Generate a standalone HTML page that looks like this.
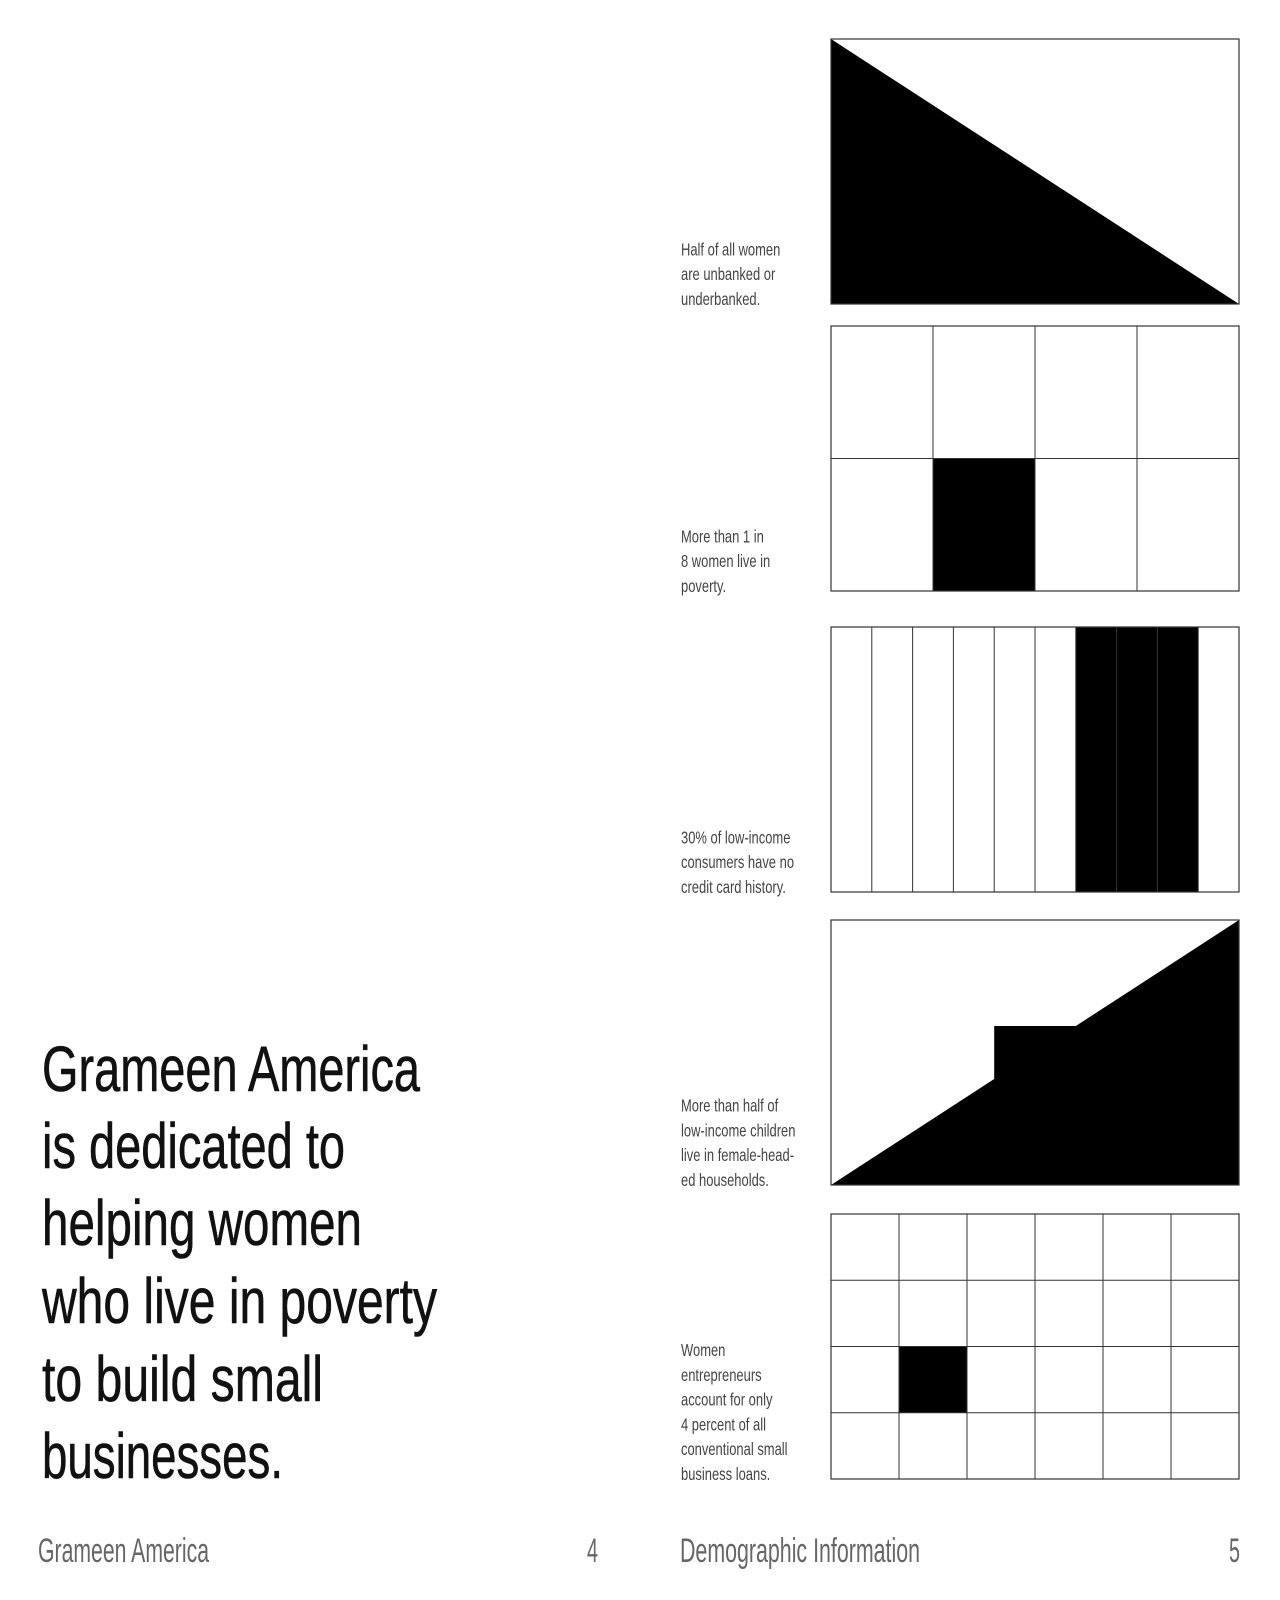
<!DOCTYPE html>
<html><head><meta charset="utf-8"><style>
html,body{margin:0;padding:0;background:#fff;}
svg{display:block;}
text{font-family:"Liberation Sans",sans-serif;}
</style></head><body>
<svg id="pg" width="1280" height="1600" viewBox="0 0 1280 1600" xmlns="http://www.w3.org/2000/svg">
<g id="heading" fill="#111" stroke="#111" stroke-width="0.6" font-size="64">
<text x="42" y="1091" textLength="378" lengthAdjust="spacingAndGlyphs">Grameen America</text>
<text x="42" y="1168" textLength="303" lengthAdjust="spacingAndGlyphs">is dedicated to</text>
<text x="42" y="1245" textLength="320" lengthAdjust="spacingAndGlyphs">helping women</text>
<text x="42" y="1323" textLength="395" lengthAdjust="spacingAndGlyphs">who live in poverty</text>
<text x="42" y="1401" textLength="281" lengthAdjust="spacingAndGlyphs">to build small</text>
<text x="42" y="1478" textLength="241" lengthAdjust="spacingAndGlyphs">businesses.</text>
</g>
<g fill="#666" font-size="34">
<text x="38" y="1562" textLength="171" lengthAdjust="spacingAndGlyphs">Grameen America</text>
<text x="587" y="1562" textLength="11" lengthAdjust="spacingAndGlyphs">4</text>
<text x="680" y="1562" textLength="240" lengthAdjust="spacingAndGlyphs">Demographic Information</text>
<text x="1229" y="1562" textLength="11" lengthAdjust="spacingAndGlyphs">5</text>
</g>
<g id="charts"></g>
</svg>
<script>
// chart frame tops (layout)
var frameTops = [39, 326, 627, 920, 1214];
var FX = 831, FW = 408, FH = 265;
// data
var labels1 = ["Half of all women", "are unbanked or", "underbanked."];
var labels2 = ["More than 1 in", "8 women live in", "poverty."];
var labels3 = ["30% of low-income", "consumers have no", "credit card history."];
var labels4 = ["More than half of", "low-income children", "live in female-head-", "ed households."];
var labels5 = ["Women", "entrepreneurs", "account for only", "4 percent of all", "conventional small", "business loans."];
var triangleShape = [[0,0],[1,1],[0,1]];
var grid2Cols = 4, grid2Rows = 2, grid2Filled = [[1,1]];
var stripeCount = 10, stripeFilled = [6,7,8];
var stepShape = [[0,1],[0.4,0.6],[0.4,0.4],[0.6,0.4],[1,0],[1,1]];
var grid5Cols = 6, grid5Rows = 4, grid5Filled = [[1,2]];

var NS = "http://www.w3.org/2000/svg";
var root = document.getElementById('charts');
function mk(tag, attrs, parent){ var e=document.createElementNS(NS,tag); for(var k in attrs) e.setAttribute(k,attrs[k]); (parent||root).appendChild(e); return e; }
function sx(f){ return FX + f*FW; }
function sy(i,f){ return frameTops[i] + f*FH; }

function label(i, lines){
  var lastBase = frameTops[i] + FH + 1;
  for (var j=0;j<lines.length;j++){
    var y = lastBase - (lines.length-1-j)*24.8;
    var t = mk('text',{transform:'translate(681,'+y+') scale(0.72,1)', 'font-size':'18', fill:'#444'});
    
    
    t.textContent = lines[j];
  }
}
function frame(i){
  var r = mk('rect',{x:FX,y:frameTops[i],width:FW,height:FH,fill:'none',stroke:'#333','stroke-width':1.2});
  
  
}
function poly(i, pts, name){
  var s = pts.map(function(p){return sx(p[0])+','+sy(i,p[1]);}).join(' ');
  var p = mk('polygon',{points:s,fill:'#000'});
  
  
}
function grid(i, cols, rows, filled, name){
  var cw = 1/cols, rh = 1/rows;
  filled.forEach(function(c){
    var r = mk('rect',{x:sx(c[0]*cw),y:sy(i,c[1]*rh),width:FW*cw,height:FH*rh,fill:'#000'});
    
    
  });
  for (var c=1;c<cols;c++){
    var l = mk('line',{x1:sx(c*cw),x2:sx(c*cw),y1:sy(i,0),y2:sy(i,1),stroke:'#333','stroke-width':1});
    
    
  }
  for (var r2=1;r2<rows;r2++){
    var l2 = mk('line',{x1:sx(0),x2:sx(1),y1:sy(i,r2*rh),y2:sy(i,r2*rh),stroke:'#333','stroke-width':1});
    
    
  }
}
// chart 1
poly(0, triangleShape, 'unbanked-triangle');
frame(0); label(0, labels1);
// chart 2
grid(1, grid2Cols, grid2Rows, grid2Filled.map(function(c){return [c[0],c[1]];}), 'poverty-grid');
frame(1); label(1, labels2);
// chart 3
grid(2, stripeCount, 1, stripeFilled.map(function(c){return [c,0];}), 'credit-stripes');
frame(2); label(2, labels3);
// chart 4
poly(3, stepShape, 'female-head-household-area');
frame(3); label(3, labels4);
// chart 5
grid(4, grid5Cols, grid5Rows, grid5Filled, 'loans-grid');
frame(4); label(4, labels5);
</script>
</body></html>
